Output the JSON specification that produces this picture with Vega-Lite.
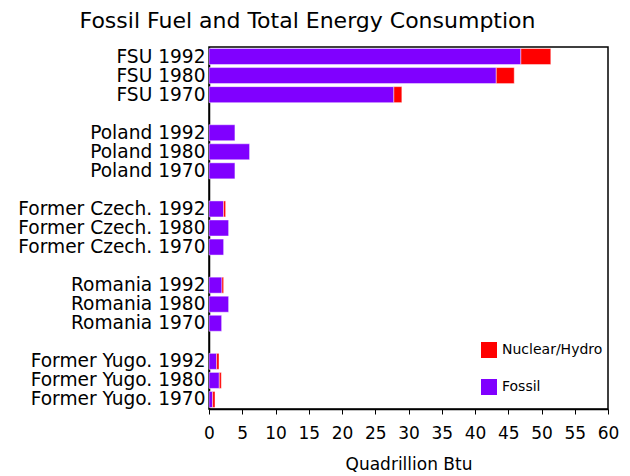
{
  "$schema": "https://vega.github.io/schema/vega-lite/v6.json",
  "autosize": {"type": "none"},
  "width": 399,
  "height": 362,
  "padding": {"left": 209, "top": 47, "right": 22, "bottom": 67},
  "background": "white",
  "title": {
    "text": "Fossil Fuel and Total Energy Consumption",
    "font": "DejaVu Sans",
    "fontSize": 22,
    "fontWeight": "normal",
    "color": "#000000",
    "anchor": "middle",
    "baseline": "alphabetic",
    "offset": 19,
    "dx": -101,
    "dy": 22
  },
  "data": {
    "values": [
      {"row": "FSU 1992", "type": "Fossil", "value": 46.9, "ord": 0},
      {"row": "FSU 1992", "type": "Nuclear/Hydro", "value": 4.5, "ord": 1},
      {"row": "FSU 1980", "type": "Fossil", "value": 43.2, "ord": 0},
      {"row": "FSU 1980", "type": "Nuclear/Hydro", "value": 2.7, "ord": 1},
      {"row": "FSU 1970", "type": "Fossil", "value": 27.8, "ord": 0},
      {"row": "FSU 1970", "type": "Nuclear/Hydro", "value": 1.2, "ord": 1},
      {"row": "Poland 1992", "type": "Fossil", "value": 3.9, "ord": 0},
      {"row": "Poland 1980", "type": "Fossil", "value": 6.1, "ord": 0},
      {"row": "Poland 1970", "type": "Fossil", "value": 3.9, "ord": 0},
      {"row": "Former Czech. 1992", "type": "Fossil", "value": 2.2, "ord": 0},
      {"row": "Former Czech. 1992", "type": "Nuclear/Hydro", "value": 0.3, "ord": 1},
      {"row": "Former Czech. 1980", "type": "Fossil", "value": 2.95, "ord": 0},
      {"row": "Former Czech. 1970", "type": "Fossil", "value": 2.2, "ord": 0},
      {"row": "Romania 1992", "type": "Fossil", "value": 1.95, "ord": 0},
      {"row": "Romania 1992", "type": "Nuclear/Hydro", "value": 0.25, "ord": 1},
      {"row": "Romania 1980", "type": "Fossil", "value": 2.95, "ord": 0},
      {"row": "Romania 1970", "type": "Fossil", "value": 1.9, "ord": 0},
      {"row": "Former Yugo. 1992", "type": "Fossil", "value": 1.15, "ord": 0},
      {"row": "Former Yugo. 1992", "type": "Nuclear/Hydro", "value": 0.35, "ord": 1},
      {"row": "Former Yugo. 1980", "type": "Fossil", "value": 1.55, "ord": 0},
      {"row": "Former Yugo. 1980", "type": "Nuclear/Hydro", "value": 0.3, "ord": 1},
      {"row": "Former Yugo. 1970", "type": "Fossil", "value": 0.55, "ord": 0},
      {"row": "Former Yugo. 1970", "type": "Nuclear/Hydro", "value": 0.35, "ord": 1}
    ]
  },
  "mark": {"type": "bar", "stroke": "white", "strokeWidth": 1, "strokeOpacity": 0.45},
  "encoding": {
    "y": {
      "field": "row",
      "type": "nominal",
      "scale": {
        "domain": ["FSU 1992", "FSU 1980", "FSU 1970", "gap1",
                   "Poland 1992", "Poland 1980", "Poland 1970", "gap2",
                   "Former Czech. 1992", "Former Czech. 1980", "Former Czech. 1970", "gap3",
                   "Romania 1992", "Romania 1980", "Romania 1970", "gap4",
                   "Former Yugo. 1992", "Former Yugo. 1980", "Former Yugo. 1970"],
        "paddingInner": 0.16,
        "paddingOuter": 0.08
      },
      "axis": {
        "title": null,
        "ticks": false,
        "domainColor": "#000000",
        "domainWidth": 1.5,
        "labelFont": "DejaVu Sans",
        "labelFontSize": 18.6,
        "labelColor": "#000000",
        "labelPadding": 4,
        "labelLimit": 400,
        "labelExpr": "indexof(datum.value, 'gap') == 0 ? '' : datum.value"
      }
    },
    "x": {
      "field": "value",
      "type": "quantitative",
      "stack": "zero",
      "scale": {"domain": [0, 60], "nice": false},
      "axis": {
        "title": "Quadrillion Btu",
        "values": [0, 5, 10, 15, 20, 25, 30, 35, 40, 45, 50, 55, 60],
        "grid": false,
        "labelFlush": false,
        "labelOverlap": false,
        "domainColor": "#000000",
        "domainWidth": 1.5,
        "tickColor": "#000000",
        "tickSize": 5,
        "labelFont": "DejaVu Sans",
        "labelFontSize": 17,
        "labelColor": "#000000",
        "labelPadding": 11,
        "titleFont": "DejaVu Sans",
        "titleFontSize": 17,
        "titleFontWeight": "normal",
        "titleColor": "#000000",
        "titlePadding": 15
      }
    },
    "color": {
      "field": "type",
      "type": "nominal",
      "scale": {"domain": ["Nuclear/Hydro", "Fossil"], "range": ["#FF0000", "#8000FF"]},
      "legend": {
        "title": null,
        "orient": "none",
        "legendX": 272,
        "legendY": 295,
        "padding": 0,
        "symbolType": "square",
        "symbolSize": 256,
        "symbolStrokeWidth": 0,
        "symbolOpacity": 1,
        "labelFont": "DejaVu Sans",
        "labelFontSize": 14,
        "labelColor": "#000000",
        "labelOffset": 5,
        "rowPadding": 21
      }
    },
    "order": {"field": "ord", "type": "quantitative"}
  },
  "config": {
    "view": {"stroke": "#000000", "strokeWidth": 1.5}
  }
}
